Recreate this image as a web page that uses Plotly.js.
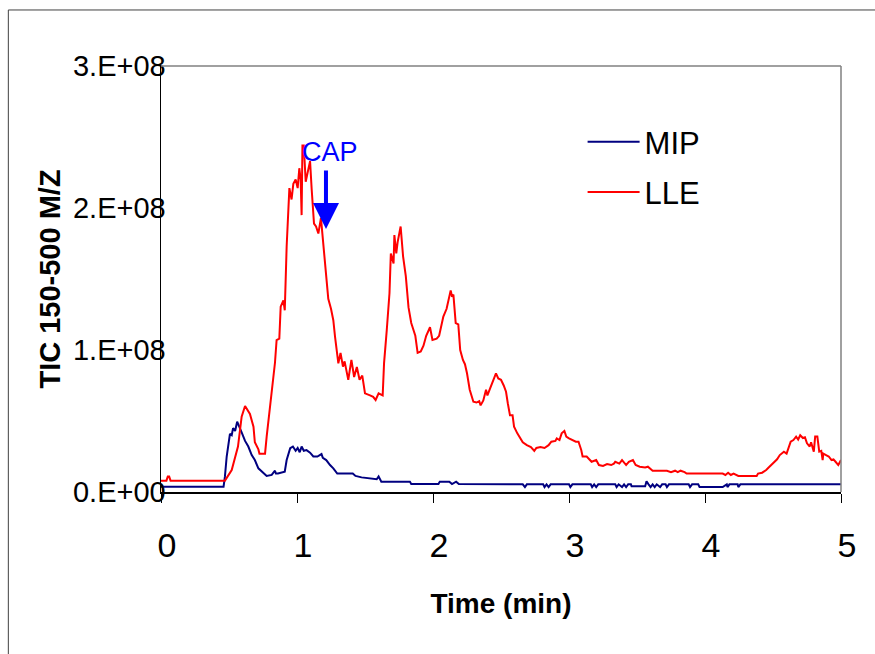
<!DOCTYPE html>
<html>
<head>
<meta charset="utf-8">
<script src="https://cdn.plot.ly/plotly-3.0.1.min.js"></script>
<style>html,body{margin:0;padding:0;background:#fff;}#chart{width:875px;height:654px;}</style>
</head>
<body>
<div id="chart"></div>
<script>
// Time (min)
const lleTime = [0,0.04,0.05,0.06,0.07,0.47,0.52,0.566,0.593,0.618,0.654,0.68,0.69,0.716,0.724,0.765,0.777,0.80,0.838,0.85,0.87,0.88,0.90,0.91,0.924,0.944,0.96,0.973,0.99,1.005,1.017,1.027,1.034,1.04,1.05,1.064,1.08,1.096,1.108,1.125,1.14,1.157,1.176,1.194,1.206,1.218,1.23,1.25,1.267,1.28,1.304,1.32,1.338,1.35,1.377,1.40,1.42,1.44,1.46,1.48,1.50,1.537,1.56,1.578,1.60,1.63,1.64,1.66,1.68,1.69,1.71,1.716,1.73,1.74,1.762,1.78,1.80,1.82,1.84,1.87,1.887,1.91,1.93,1.95,1.978,1.996,2.027,2.045,2.076,2.10,2.12,2.13,2.14,2.15,2.167,2.186,2.20,2.22,2.235,2.25,2.27,2.297,2.32,2.34,2.35,2.37,2.39,2.40,2.42,2.44,2.463,2.48,2.50,2.52,2.537,2.55,2.566,2.585,2.596,2.62,2.64,2.66,2.69,2.72,2.745,2.76,2.79,2.82,2.85,2.87,2.90,2.91,2.93,2.946,2.966,2.98,3.00,3.03,3.05,3.07,3.09,3.10,3.13,3.166,3.20,3.22,3.25,3.28,3.31,3.33,3.34,3.37,3.39,3.42,3.44,3.47,3.49,3.52,3.56,3.58,3.615,3.67,3.72,3.75,3.78,3.80,3.82,3.85,3.865,4.13,4.15,4.17,4.19,4.21,4.245,4.38,4.39,4.42,4.45,4.47,4.50,4.53,4.55,4.58,4.60,4.61,4.63,4.65,4.67,4.685,4.70,4.72,4.735,4.75,4.77,4.78,4.80,4.81,4.826,4.84,4.855,4.865,4.87,4.89,4.91,4.93,4.945,4.96,4.98,5.0];
// LLE TIC in units of 1e8
const lleTIC = [0.08,0.08,0.11,0.11,0.08,0.08,0.155,0.32,0.53,0.606,0.55,0.46,0.35,0.30,0.27,0.27,0.39,0.58,0.91,1.07,1.08,1.305,1.35,1.28,1.73,2.14,2.06,2.17,2.2,2.14,2.28,2.2,1.95,2.44,2.44,2.185,2.25,2.33,2.13,1.89,1.87,1.82,1.93,1.74,1.63,1.49,1.36,1.29,1.21,1.09,0.906,0.98,0.883,0.92,0.79,0.93,0.81,0.88,0.79,0.82,0.695,0.68,0.67,0.648,0.695,0.68,0.906,1.14,1.4,1.68,1.61,1.81,1.68,1.76,1.87,1.66,1.52,1.30,1.19,1.1,0.98,0.99,1.03,1.1,1.16,1.07,1.08,1.1,1.235,1.29,1.375,1.42,1.375,1.39,1.19,1.18,1.0,0.93,0.9,0.836,0.72,0.636,0.63,0.64,0.61,0.645,0.72,0.68,0.73,0.777,0.836,0.80,0.79,0.75,0.706,0.625,0.54,0.54,0.46,0.413,0.378,0.35,0.33,0.317,0.29,0.31,0.317,0.31,0.33,0.354,0.36,0.378,0.366,0.413,0.43,0.39,0.378,0.366,0.354,0.354,0.296,0.25,0.25,0.213,0.225,0.19,0.183,0.197,0.19,0.2,0.213,0.2,0.225,0.19,0.213,0.225,0.19,0.178,0.173,0.178,0.15,0.15,0.15,0.14,0.15,0.14,0.15,0.14,0.13,0.13,0.12,0.136,0.12,0.13,0.113,0.113,0.13,0.136,0.155,0.174,0.2,0.23,0.26,0.284,0.27,0.296,0.354,0.366,0.39,0.37,0.40,0.38,0.385,0.343,0.32,0.35,0.284,0.39,0.39,0.284,0.29,0.225,0.27,0.26,0.25,0.225,0.23,0.213,0.19,0.225];

const mipTime = [0,0.46,0.47,0.483,0.507,0.52,0.53,0.545,0.56,0.58,0.593,0.618,0.642,0.667,0.69,0.716,0.74,0.777,0.814,0.838,0.845,0.86,0.91,0.924,0.95,0.97,0.99,1.005,1.02,1.034,1.05,1.07,1.096,1.12,1.15,1.18,1.19,1.215,1.243,1.267,1.296,1.41,1.43,1.475,1.586,1.60,1.62,1.83,1.84,2.04,2.05,2.12,2.14,2.17,2.19,2.66,2.676,2.69,2.81,2.82,2.835,2.85,2.865,3.00,3.01,3.025,3.16,3.17,3.185,3.20,3.215,3.34,3.35,3.365,3.39,3.405,3.42,3.435,3.455,3.46,3.56,3.57,3.585,3.60,3.615,3.63,3.645,3.67,3.685,3.71,3.72,3.735,3.88,3.89,3.905,3.95,3.96,4.13,4.16,4.165,4.18,4.24,4.245,4.26,5.0];
// MIP TIC in units of 1e8
const mipTIC = [0.037,0.037,0.108,0.25,0.41,0.40,0.45,0.43,0.495,0.44,0.42,0.36,0.32,0.26,0.225,0.167,0.143,0.113,0.12,0.15,0.13,0.13,0.143,0.225,0.308,0.32,0.29,0.31,0.28,0.32,0.29,0.295,0.277,0.25,0.25,0.267,0.24,0.225,0.19,0.167,0.13,0.13,0.113,0.103,0.09,0.11,0.073,0.073,0.056,0.056,0.073,0.073,0.056,0.073,0.056,0.054,0.035,0.054,0.054,0.035,0.054,0.035,0.054,0.054,0.035,0.054,0.054,0.035,0.054,0.035,0.054,0.054,0.035,0.054,0.035,0.054,0.035,0.054,0.054,0.04,0.04,0.075,0.054,0.035,0.054,0.035,0.054,0.035,0.054,0.054,0.035,0.054,0.054,0.035,0.054,0.054,0.035,0.035,0.054,0.035,0.054,0.054,0.035,0.054,0.054];

const xTickVals = [0,1,2,3,4,5];
const yTickVals = [0,1e8,2e8,3e8];
const yTickText = ["0.E+00","1.E+08","2.E+08","3.E+08"];
const SCALE = 1e8;

const FONT = "Arial, 'Liberation Sans', sans-serif";

const traces = [
  {x: mipTime, y: mipTIC.map(v => v*SCALE), name: "MIP", type: "scatter", mode: "lines",
   line: {color: "#000080", width: 2}, legendgroup: "a"},
  {x: lleTime, y: lleTIC.map(v => v*SCALE), name: "LLE", type: "scatter", mode: "lines",
   line: {color: "#ff0000", width: 2}, legendgroup: "b"}
];

const layout = {
  width: 875, height: 654,
  margin: {l: 161, r: 34, t: 66, b: 162},
  paper_bgcolor: "#ffffff", plot_bgcolor: "#ffffff",
  font: {family: FONT, color: "#000"},
  showlegend: true,
  legend: {x: 0.62, y: 0.885, xanchor: "left", yanchor: "top", bgcolor: "rgba(0,0,0,0)",
           font: {size: 31, family: FONT}, itemwidth: 52, tracegroupgap: 7},
  xaxis: {range: [0, 5], tickvals: xTickVals, ticks: "outside", ticklen: 9, tickcolor: "#000",
          showline: true, linecolor: "#000", linewidth: 1.5, mirror: false, showgrid: false, zeroline: false,
          tickfont: {size: 34, family: FONT}, ticklabelstandoff: 14, ticklabelshift: 6,
          title: {text: "<b>Time (min)</b>", font: {size: 28, family: FONT}, standoff: 30}},
  yaxis: {range: [0, 3e8], tickvals: yTickVals, ticktext: yTickText, ticks: "",
          showline: true, linecolor: "#000", linewidth: 1.5, showgrid: false, zeroline: false,
          tickfont: {size: 29, family: FONT}, ticklabelstandoff: -12,
          title: {text: "<b>TIC 150-500 M/Z</b>", font: {size: 29, family: FONT}, standoff: 4}},
  shapes: [
    // plot-area frame (top and right)
    {type: "line", xref: "paper", yref: "paper", x0: 0, x1: 1, y0: 1, y1: 1, line: {color: "#808080", width: 1.5}},
    {type: "line", xref: "paper", yref: "paper", x0: 1, x1: 1, y0: 0, y1: 1, line: {color: "#808080", width: 1.5}},
    // chart-area border (left and top)
    {type: "line", xref: "paper", yref: "paper", x0: -0.2245, x1: -0.2245, y0: -0.40, y1: 1.1315, line: {color: "#404040", width: 1}},
    {type: "line", xref: "paper", yref: "paper", x0: -0.2245, x1: 1.06, y0: 1.1315, y1: 1.1315, line: {color: "#404040", width: 1}}
  ],
  annotations: [
    {x: 1.243, y: 2.394e8, xref: "x", yref: "y", text: "CAP", showarrow: false,
     font: {size: 27, color: "#0000ff", family: FONT}},
    {x: 1.213, y: 1.852e8, xref: "x", yref: "y", text: "", showarrow: true,
     ax: 0, ay: -60, arrowhead: 2, arrowsize: 1.3, arrowwidth: 4, arrowcolor: "#0000ff"}
  ]
};

Plotly.newPlot("chart", traces, layout, {displayModeBar: false, staticPlot: true});
</script>
</body>
</html>
